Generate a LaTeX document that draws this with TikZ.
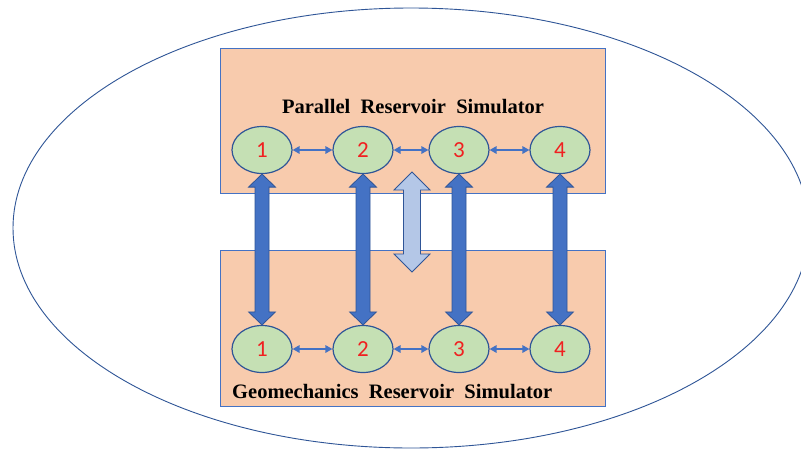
\documentclass[tikz,border=0pt]{standalone}
\usepackage{fontspec}
\setmainfont{Liberation Serif}
\newfontfamily\numfont{Carlito}
\newfontfamily\titlefont[WordSpace=2]{Liberation Serif}
\usetikzlibrary{shapes.geometric,arrows.meta,calc}
\definecolor{peach}{HTML}{F8CBAD}
\definecolor{lgreen}{HTML}{C5E0B4}
\definecolor{mblue}{HTML}{4472C4}
\definecolor{dblue}{HTML}{2F5597}
\definecolor{lblue}{HTML}{B4C7E7}
\definecolor{numred}{HTML}{F02020}
\newcommand\vdarrow[6]{%
  \draw[#6] let \p1=(#1), \p2=(#2) in
    (\x1,\y1) -- (\x1+#3,\y1-#5) -- (\x1+#4,\y1-#5) -- (\x1+#4,\y2+#5)
    -- (\x1+#3,\y2+#5) -- (\x1,\y2) -- (\x1-#3,\y2+#5) -- (\x1-#4,\y2+#5)
    -- (\x1-#4,\y1-#5) -- (\x1-#3,\y1-#5) -- cycle;}
\begin{document}
\begin{tikzpicture}[x=1pt,y=-1pt,
  outerell/.style={draw=dblue, line width=0.9pt},
  box/.style={draw=mblue, fill=peach, line width=1pt, minimum width=385pt, minimum height=145pt},
  proc/.style={ellipse, draw=dblue, fill=lgreen, line width=1.2pt, minimum width=60pt, minimum height=47pt, inner sep=0pt, font=\numfont\fontsize{23}{23}\selectfont, text=numred},
  link/.style={draw=mblue, line width=1.6pt, {Triangle[length=7pt,width=7.5pt]}-{Triangle[length=7pt,width=7.5pt]}},
  bigar/.style={fill=mblue, draw=dblue, line width=0.8pt},
  lightar/.style={fill=lblue, draw=dblue, line width=0.8pt},
  title/.style={font=\titlefont\bfseries\fontsize{20.5}{20.5}\selectfont, inner sep=0pt}]
\useasboundingbox (0,0) rectangle (801,448);
\fill[white] (0,0) rectangle (801,448);
\draw[outerell] (411,228) ellipse [x radius=398, y radius=220];
\node[box] (topbox) at (412.5,120.5) {};
\node[box, minimum height=156pt] (botbox) at (412.5,328) {};
\node[title, anchor=base] (ttitle) at (413,113) {Parallel Reservoir Simulator};
\node[title, anchor=base west] (btitle) at (232,398) {Geomechanics Reservoir Simulator};
\foreach \i/\x in {1/262,2/363,3/459,4/560}{
  \node[proc] (t\i) at (\x,150) {\i};
  \node[proc] (b\i) at (\x,349) {\i};
}
\foreach \i/\j in {1/2,2/3,3/4}{
  \draw[link] (t\i) -- (t\j);
  \draw[link] (b\i) -- (b\j);
}
\foreach \i in {1,2,3,4}{
  \vdarrow{t\i.south}{b\i.north}{13.5pt}{7pt}{13pt}{bigar}
}
\coordinate (lt) at (412,172);
\coordinate (lb) at (412,272);
\vdarrow{lt}{lb}{18pt}{8.5pt}{18pt}{lightar}
\end{tikzpicture}
\end{document}
